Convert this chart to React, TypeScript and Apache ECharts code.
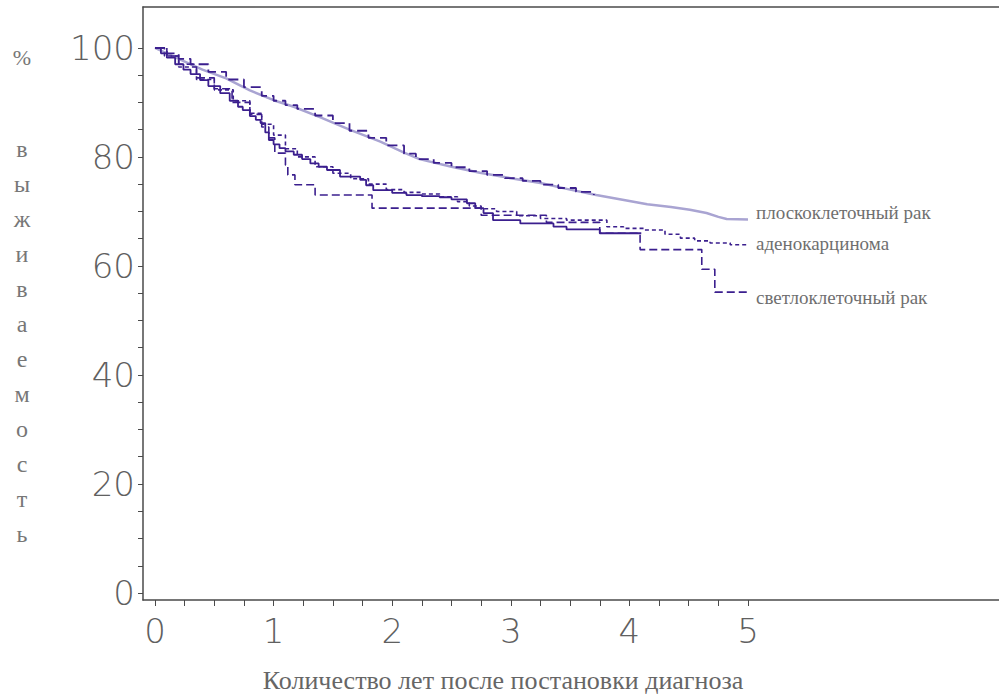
import React, { useEffect, useRef } from "react";
import * as echarts from "echarts";

// Kaplan–Meier survival data: [years, % surviving]
const squamousSmooth: [number, number][] = [
  [0, 100], [0.2, 98], [0.4, 96], [0.6, 94.4], [0.8, 92.2], [1.0, 90.4], [1.17, 89.2],
  [1.4, 87.2], [1.64, 85.0], [1.9, 82.8], [2.1, 80.8], [2.23, 79.6], [2.5, 78.2],
  [2.74, 77.1], [3.0, 76.1], [3.25, 75.2], [3.5, 74.0], [3.72, 73.0], [4.0, 71.9],
  [4.15, 71.3], [4.35, 70.8], [4.51, 70.3], [4.65, 69.7], [4.75, 69.0], [4.82, 68.6], [5.0, 68.5],
];
const squamousSteps: [number, number][] = [
  [0, 100], [0.1, 99], [0.2, 98], [0.3, 97], [0.45, 95.6], [0.6, 94.2], [0.75, 92.8],
  [0.9, 91.2], [1.0, 90.3], [1.1, 89.5], [1.2, 88.8], [1.35, 87.6], [1.5, 86.2],
  [1.64, 84.8], [1.8, 83.5], [1.95, 82.1], [2.1, 80.6], [2.2, 79.6], [2.35, 78.9],
  [2.5, 78.1], [2.65, 77.4], [2.8, 76.7], [2.95, 76.1], [3.1, 75.6], [3.25, 74.9],
  [3.4, 74.3], [3.55, 73.6], [3.7, 73.0],
];
const otherSolid: [number, number][] = [
  [0, 100], [0.05, 99], [0.1, 98.2], [0.17, 97], [0.24, 96.0], [0.3, 95.2], [0.38, 94.1],
  [0.45, 93], [0.55, 91.7], [0.63, 90.3], [0.7, 89.2], [0.74, 88.6], [0.8, 87.5],
  [0.85, 86.8], [0.89, 86.2], [0.93, 84.5], [0.96, 83.1], [1.0, 82.3], [1.05, 81.6],
  [1.1, 81.0], [1.17, 80.4], [1.24, 79.6], [1.31, 78.8], [1.38, 78.2], [1.45, 77.6],
  [1.56, 76.4], [1.73, 75.8], [1.78, 74.8], [1.84, 73.9], [2.0, 73.4], [2.12, 73.0],
  [2.25, 72.8], [2.4, 72.6], [2.5, 72.2], [2.63, 71.5], [2.7, 70.6], [2.77, 69.7],
  [2.85, 68.4], [3.08, 67.8], [3.36, 67.2], [3.47, 66.7], [3.75, 66.0], [4.1, 66.0],
];
const adeno: [number, number][] = [
  [0, 100], [0.08, 98.5], [0.2, 96.5], [0.35, 94.2], [0.5, 92.3], [0.66, 90.3], [0.8, 88.0],
  [0.9, 86], [1.0, 84], [1.1, 81.5], [1.2, 80], [1.35, 78.2], [1.5, 77], [1.65, 76],
  [1.8, 75], [1.95, 74], [2.1, 73.5], [2.25, 73.2], [2.4, 72.7], [2.55, 71.8], [2.65, 71],
  [2.75, 70.5], [2.88, 70.0], [3.05, 69.2], [3.25, 68.7], [3.47, 68.4], [3.81, 67.2],
  [3.95, 66.9], [4.12, 66.6], [4.3, 65.8], [4.43, 65.1], [4.55, 64.6], [4.68, 64.2],
  [4.85, 63.9], [5.0, 63.7],
];
const clearCell: [number, number][] = [
  [0, 100], [0.1, 98.5], [0.2, 97], [0.35, 94.5], [0.5, 92.5], [0.65, 90], [0.8, 87.8],
  [0.9, 85.5], [0.96, 83.5], [1.01, 80.7], [1.10, 78.5], [1.12, 76.7], [1.18, 74.9],
  [1.35, 73.0], [1.83, 70.6], [2.75, 69.3], [3.3, 68.0], [3.75, 66.0], [4.09, 63.0],
  [4.61, 59.4], [4.72, 55.2], [5.0, 55.2],
];

const seriesNames = ["плоскоклеточный рак", "аденокарцинома", "светлоклеточный рак"];
const xTickValues = [0, 0.25, 0.5, 0.75, 1, 1.25, 1.5, 1.75, 2, 2.25, 2.5, 2.75, 3, 3.25, 3.5, 3.75, 4, 4.25, 4.5, 4.75, 5];
const xLabelValues = [0, 1, 2, 3, 4, 5];
const yTickValues = [0, 5, 10, 15, 20, 25, 30, 35, 40, 45, 50, 55, 60, 65, 70, 75, 80, 85, 90, 95, 100];
const yLabelValues = [0, 20, 40, 60, 80, 100];
const yTitleLetters = ["в", "ы", "ж", "и", "в", "а", "е", "м", "о", "с", "т", "ь"];
const xTitle = "Количество лет после постановки диагноза";

const DARK = "#3b1f8e";
const LIGHT = "#a9a4d2";
const AXIS = "#4a4a4a";
const LABEL = "#606060";
const SERIF = "'Liberation Serif', 'Times New Roman', serif";
const THIN = "'DejaVu Sans ExtraLight', 'DejaVu Sans', sans-serif";

export default function App() {
  const ref = useRef<HTMLDivElement>(null);
  useEffect(() => {
    if (!ref.current) return;
    const chart = echarts.init(ref.current, undefined, { renderer: "svg" });
    const endLabelStyle = (offsetY: number) => ({
      show: true,
      formatter: "{a}",
      fontFamily: SERIF,
      fontSize: 19,
      color: "#6f6f6f",
      distance: 8,
      offset: [0, offsetY],
    });
    chart.setOption({
      animation: false,
      backgroundColor: "#fff",
      grid: { left: 143, top: 7, right: 0, bottom: 97, containLabel: false },
      xAxis: [
        {
          type: "value",
          min: -0.101,
          max: 7.116,
          axisLine: { show: true, onZero: false, lineStyle: { color: AXIS, width: 1.5 } },
          axisTick: { show: true, customValues: xTickValues, length: 6, inside: false, lineStyle: { color: AXIS } },
          axisLabel: {
            customValues: xLabelValues,
            margin: 14,
            fontFamily: THIN,
            fontWeight: 200,
            fontSize: 34,
            color: LABEL,
          },
          splitLine: { show: false },
        },
        {
          type: "value",
          position: "top",
          min: -0.101,
          max: 7.116,
          axisLine: { show: true, onZero: false, lineStyle: { color: AXIS, width: 1.5 } },
          axisTick: { show: false },
          axisLabel: { show: false },
          splitLine: { show: false },
        },
      ],
      yAxis: {
        type: "value",
        min: -1.28,
        max: 107.5,
        axisLine: { show: true, onZero: false, lineStyle: { color: AXIS, width: 1.5 } },
        axisTick: { show: true, customValues: yTickValues, length: 5, lineStyle: { color: AXIS } },
        axisLabel: {
          customValues: yLabelValues,
          margin: 8,
          fontFamily: THIN,
          fontWeight: 200,
          fontSize: 34,
          color: LABEL,
        },
        splitLine: { show: false },
      },
      series: [
        {
          name: seriesNames[0],
          type: "line",
          data: squamousSmooth,
          showSymbol: false,
          smooth: false,
          lineStyle: { color: LIGHT, width: 2.5 },
          endLabel: endLabelStyle(-7),
          z: 2,
        },
        {
          name: "squamous-steps",
          type: "line",
          step: "end",
          data: squamousSteps,
          showSymbol: false,
          lineStyle: { color: DARK, width: 1.8, type: [10, 5] },
          z: 3,
        },
        {
          name: "solid",
          type: "line",
          step: "end",
          data: otherSolid,
          showSymbol: false,
          lineStyle: { color: DARK, width: 1.8 },
          z: 3,
        },
        {
          name: seriesNames[1],
          type: "line",
          step: "end",
          data: adeno,
          showSymbol: false,
          lineStyle: { color: DARK, width: 1.6, type: [4, 3] },
          endLabel: endLabelStyle(-2),
          z: 3,
        },
        {
          name: seriesNames[2],
          type: "line",
          step: "end",
          data: clearCell,
          showSymbol: false,
          lineStyle: { color: DARK, width: 1.6, type: [8, 4] },
          endLabel: endLabelStyle(5),
          z: 3,
        },
      ],
      graphic: [
        {
          type: "text",
          x: 22,
          y: 57,
          style: {
            text: "%",
            fontFamily: SERIF,
            fontSize: 22,
            fill: "#777",
            align: "center",
            verticalAlign: "middle",
          },
        },
        {
          type: "text",
          x: 22,
          y: 131,
          style: {
            text: yTitleLetters.join("\n"),
            fontFamily: SERIF,
            fontSize: 24,
            lineHeight: 35,
            fill: "#777",
            align: "center",
          },
        },
        {
          type: "text",
          x: 503,
          y: 680,
          style: {
            text: xTitle,
            fontFamily: SERIF,
            fontSize: 26,
            fill: "#666",
            align: "center",
            verticalAlign: "middle",
          },
        },
      ],
    });
    return () => chart.dispose();
  }, []);
  return (
    <div
      ref={ref}
      style={{ position: "absolute", left: 0, top: 0, width: 999, height: 697, background: "#fff" }}
    />
  );
}
